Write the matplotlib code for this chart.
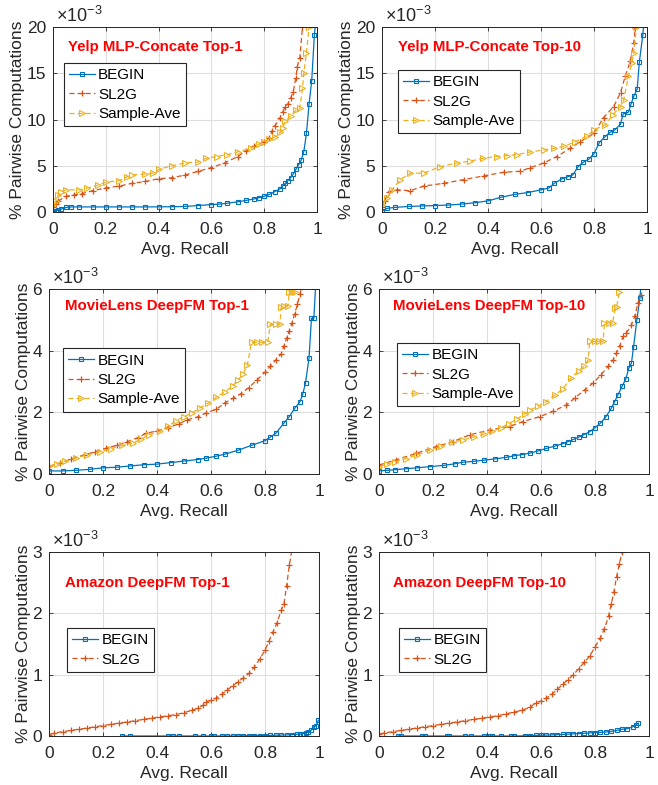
import matplotlib
matplotlib.use("Agg")
import matplotlib.pyplot as plt

plt.rcParams['font.family'] = ['Liberation Sans', 'DejaVu Sans']
plt.rcParams['mathtext.fontset'] = 'custom'
plt.rcParams['mathtext.rm'] = 'Liberation Sans'

# ---------------- data (y in units of 1e-3 %) ----------------
# Panel 1: Yelp MLP-Concate Top-1
p1_begin_x = [0, .01, .02, .03, .05, .07, .1, .15, .2, .25, .3, .35, .4, .45, .5, .55, .6, .63, .66, .7,
              .73, .76, .78, .8, .82, .84, .86, .87, .88, .89, .9, .91, .92, .93, .94, .95, .96, .97, .98, .99, 1.0]
p1_begin_y = [.1, .15, .2, .3, .5, .55, .55, .55, .55, .55, .55, .55, .56, .57, .6, .7, .8, .85, .95, 1.1,
              1.25, 1.4, 1.55, 1.7, 1.9, 2.2, 2.5, 2.8, 3.1, 3.4, 3.7, 4.1, 4.6, 5.1, 5.6, 6.5, 8.5, 11.7, 14.2, 19.1, 22]
p1_sl2g_x = [0, .01, .02, .05, .08, .11, .15, .2, .25, .3, .35, .4, .45, .5, .55, .6, .65, .7, .73, .76,
             .8, .82, .83, .84, .86, .87, .88, .89, .9, .91, .92, .925, .935, .945, .95]
p1_sl2g_y = [.5, .9, 1.2, 1.7, 1.85, 2.0, 2.3, 2.6, 2.8, 3.1, 3.3, 3.6, 3.7, 4.0, 4.4, 4.8, 5.3, 6.0, 6.6, 7.1,
             7.6, 8.0, 8.8, 9.3, 10.2, 10.8, 11.4, 11.7, 12.3, 13.0, 14.5, 15.7, 16.7, 20.0, 21]
p1_samp_x = [0, .01, .02, .03, .05, .1, .13, .17, .2, .25, .28, .3, .35, .38, .4, .45, .5, .55, .58, .62,
             .66, .7, .75, .78, .8, .82, .84, .86, .87, .88, .9, .92, .935, .945, .95, .96, .97]
p1_samp_y = [.8, 1.2, 1.8, 2.2, 2.4, 2.4, 2.6, 2.9, 3.2, 3.4, 3.8, 4.0, 4.1, 4.2, 4.6, 5.0, 5.3, 5.4, 5.8, 6.0,
             6.2, 6.5, 6.9, 7.3, 7.6, 7.9, 8.1, 8.6, 9.1, 9.8, 10.4, 11.0, 11.2, 13.4, 15.0, 17.2, 20.0]

# Panel 2: Yelp MLP-Concate Top-10
p2_begin_x = [0, .02, .05, .1, .15, .2, .25, .3, .35, .4, .45, .5, .55, .6, .63, .65, .68, .7, .72, .74,
              .76, .78, .8, .82, .84, .86, .88, .9, .91, .93, .94, .95, .963, .971, .984, .99]
p2_begin_y = [.1, .4, .5, .6, .65, .7, .75, .85, 1.0, 1.2, 1.6, 1.9, 2.1, 2.4, 2.6, 3.1, 3.6, 3.8, 4.0, 4.9,
              5.4, 5.7, 6.3, 7.5, 8.1, 8.6, 8.9, 9.5, 10.6, 10.8, 11.7, 12.5, 13.3, 16.2, 19.1, 21]
p2_sl2g_x = [0, .01, .025, .057, .107, .157, .233, .308, .384, .459, .522, .56, .61, .66, .711, .748,
             .8, .836, .874, .9, .918, .937, .95, .956]
p2_sl2g_y = [.5, 1.2, 2.2, 2.4, 2.3, 2.8, 3.1, 3.5, 3.9, 4.3, 4.4, 4.8, 5.3, 6.0, 6.9, 7.6,
             8.5, 10.2, 11.4, 12.9, 14.7, 16.3, 18.3, 19.9]
p2_samp_x = [0, .02, .038, .069, .107, .157, .22, .283, .333, .38, .434, .47, .51, .56, .61, .65, .686, .73,
             .774, .8, .843, .87, .9, .912, .93, .943, .95, .96]
p2_samp_y = [.8, 1.5, 2.4, 3.5, 4.2, 4.2, 4.9, 5.3, 5.5, 5.8, 6.0, 6.1, 6.2, 6.5, 6.7, 6.9, 7.1, 7.6,
             8.2, 8.9, 9.4, 10.5, 11.4, 12.1, 14.7, 16.1, 17.2, 20.0]

# Panel 3: MovieLens DeepFM Top-1
p3_begin_x = [0, .05, .1, .15, .2, .25, .3, .35, .4, .45, .5, .55, .58, .62, .65, .7, .75, .8, .82, .84,
              .87, .89, .91, .93, .94, .95, .963, .972, .981, .99]
p3_begin_y = [.1, .1, .12, .15, .2, .22, .26, .3, .32, .37, .42, .47, .51, .58, .64, .77, .93, 1.08, 1.2, 1.32,
              1.65, 1.86, 2.13, 2.35, 2.6, 2.95, 3.76, 5.05, 5.05, 6.5]
p3_sl2g_x = [0, .04, .08, .13, .17, .21, .25, .29, .33, .36, .4, .44, .48, .51, .55, .58, .62, .65, .68, .71,
             .74, .77, .8, .82, .84, .86, .87, .88, .89, .9, .91, .92, .93, .94]
p3_sl2g_y = [.25, .35, .48, .62, .72, .83, .93, 1.05, 1.18, 1.32, 1.4, 1.5, 1.62, 1.75, 1.85, 1.97, 2.1, 2.3, 2.45, 2.6,
             2.8, 3.05, 3.3, 3.5, 3.7, 3.9, 4.15, 4.4, 4.65, 4.9, 5.2, 5.5, 5.85, 6.2]
p3_samp_x = [0, .03, .06, .1, .14, .19, .23, .27, .31, .34, .37, .41, .44, .47, .5, .53, .56, .59, .62, .65,
             .68, .7, .72, .735, .75, .77, .79, .81, .82, .84, .855, .86, .87, .885, .89, .9, .91, .92]
p3_samp_y = [.25, .33, .42, .52, .62, .72, .82, .93, 1.0, 1.12, 1.27, 1.38, 1.55, 1.72, 1.86, 1.98, 2.15, 2.3, 2.5, 2.65,
             2.85, 3.05, 3.25, 3.55, 4.27, 4.27, 4.27, 4.27, 4.85, 4.85, 4.85, 5.4, 5.45, 5.45, 5.9, 5.9, 5.9, 6.3]

# Panel 4: MovieLens DeepFM Top-10
p4_begin_x = [0, .03, .06, .1, .14, .19, .24, .28, .31, .35, .39, .43, .47, .5, .53, .56, .59, .62, .65, .68,
              .7, .72, .74, .76, .78, .8, .82, .84, .86, .873, .885, .9, .914, .925, .935, .943, .955, .966, .975]
p4_begin_y = [.1, .12, .14, .17, .2, .24, .28, .33, .38, .41, .45, .49, .54, .59, .63, .68, .75, .83, .9, .98,
              1.05, 1.12, 1.2, 1.28, 1.37, 1.5, 1.65, 1.85, 2.13, 2.35, 2.57, 2.84, 3.08, 3.43, 3.6, 4.13, 5.0, 5.7, 6.5]
p4_sl2g_x = [0, .064, .138, .212, .274, .336, .41, .484, .533, .595, .644, .694, .725, .762, .793, .823,
             .848, .867, .879, .891, .904, .916, .935, .947, .959, .972]
p4_sl2g_y = [.29, .46, .67, .89, 1.05, 1.27, 1.43, 1.54, 1.7, 1.86, 2.03, 2.24, 2.46, 2.73, 2.95, 3.22,
             3.49, 3.7, 3.92, 4.14, 4.46, 4.57, 4.84, 5.11, 5.55, 5.82]
p4_samp_x = [0, .03, .06, .1, .14, .19, .23, .27, .31, .35, .39, .42, .45, .48, .51, .54, .56, .59, .62, .65,
             .68, .71, .74, .76, .775, .78, .8, .815, .83, .835, .85, .865, .875, .88, .89, .9]
p4_samp_y = [.24, .32, .4, .5, .62, .78, .9, 1.03, 1.1, 1.2, 1.3, 1.38, 1.5, 1.63, 1.78, 1.95, 2.08, 2.2, 2.35, 2.55,
             2.75, 3.1, 3.35, 3.5, 3.7, 4.3, 4.3, 4.3, 4.3, 4.9, 4.9, 4.9, 5.38, 5.4, 5.9, 6.3]

# Panel 5: Amazon DeepFM Top-1
p5_begin_x = [.27, .3, .44, .46, .48, .54, .57, .6, .61, .64, .66, .68, .7, .72, .74, .76, .78, .8, .82, .84,
              .86, .88, .9, .92, .93, .94, .95, .96, .97, .98, .99, .998]
p5_begin_y = [0, 0, 0, 0, 0, 0, 0, 0, 0, 0, 0, 0, .002, .003, .004, .005, .006, .008, .01, .012,
              .015, .018, .022, .027, .03, .04, .05, .065, .09, .15, .17, .26]
p5_sl2g_x = [0, .02, .05, .08, .11, .14, .17, .2, .23, .26, .29, .32, .35, .38, .41, .44, .47, .5, .53, .55,
             .57, .58, .6, .62, .64, .66, .68, .7, .72, .74, .76, .78, .8, .815, .83, .845, .86, .87, .88, .89, .9]
p5_sl2g_y = [.02, .05, .07, .09, .11, .13, .15, .17, .19, .21, .23, .25, .27, .29, .31, .33, .35, .38, .42, .45,
             .5, .56, .58, .62, .68, .75, .82, .88, .95, 1.02, 1.12, 1.25, 1.4, 1.55, 1.7, 1.85, 2.05, 2.15, 2.45, 2.78, 3.05]

# Panel 6: Amazon DeepFM Top-10
p6_begin_x = [.07, .08, .16, .17, .25, .26, .32, .34, .39, .41, .42, .45, .49, .5, .54, .56, .58, .6, .62, .64,
              .66, .68, .7, .72, .74, .76, .78, .8, .82, .84, .86, .88, .9, .92, .94, .95, .96]
p6_begin_y = [0, 0, 0, 0, 0, 0, 0, 0, 0, 0, 0, 0, 0, 0, .003, .006, .01, .012, .015, .018,
              .022, .026, .03, .035, .04, .045, .05, .055, .06, .065, .075, .09, .11, .12, .15, .18, .21]
p6_sl2g_x = [0, .02, .05, .08, .11, .14, .17, .2, .23, .26, .29, .32, .35, .38, .41, .44, .47, .5, .53, .56,
             .58, .6, .62, .64, .66, .68, .7, .72, .74, .76, .78, .8, .82, .835, .85, .86, .87, .88, .89, .9]
p6_sl2g_y = [.03, .05, .07, .09, .11, .13, .15, .17, .19, .21, .23, .25, .27, .29, .31, .33, .36, .39, .42, .47,
             .54, .57, .62, .68, .76, .84, .92, 1.0, 1.1, 1.2, 1.3, 1.45, 1.6, 1.75, 1.95, 2.15, 2.35, 2.6, 2.8, 3.0]

titles = ["Yelp MLP-Concate Top-1", "Yelp MLP-Concate Top-10",
          "MovieLens DeepFM Top-1", "MovieLens DeepFM Top-10",
          "Amazon DeepFM Top-1", "Amazon DeepFM Top-10"]
series_names = ["BEGIN", "SL2G", "Sample-Ave"]
x_ticks = [0, 0.2, 0.4, 0.6, 0.8, 1]
x_tick_labels = ["0", "0.2", "0.4", "0.6", "0.8", "1"]
y_ticks = [[0, 5, 10, 15, 20], [0, 5, 10, 15, 20], [0, 2, 4, 6], [0, 2, 4, 6], [0, 1, 2, 3], [0, 1, 2, 3]]

panels = [
    [(p1_begin_x, p1_begin_y), (p1_sl2g_x, p1_sl2g_y), (p1_samp_x, p1_samp_y)],
    [(p2_begin_x, p2_begin_y), (p2_sl2g_x, p2_sl2g_y), (p2_samp_x, p2_samp_y)],
    [(p3_begin_x, p3_begin_y), (p3_sl2g_x, p3_sl2g_y), (p3_samp_x, p3_samp_y)],
    [(p4_begin_x, p4_begin_y), (p4_sl2g_x, p4_sl2g_y), (p4_samp_x, p4_samp_y)],
    [(p5_begin_x, p5_begin_y), (p5_sl2g_x, p5_sl2g_y)],
    [(p6_begin_x, p6_begin_y), (p6_sl2g_x, p6_sl2g_y)],
]

# ---------------- layout / style ----------------
W, H = 658, 785
# (left, right, top, bottom) in pixels
boxes = [(53, 317, 27, 212), (382, 647, 27, 212),
         (49, 319, 289, 474), (379, 649, 289, 474),
         (49, 319, 552, 736), (379, 649, 552, 736)]
title_pos = [(0.055, 0.89), (0.06, 0.89), (0.06, 0.91), (0.052, 0.91), (0.06, 0.83), (0.052, 0.83)]
legend_pos = [(0.04, 0.805), (0.06, 0.768), (0.052, 0.68), (0.067, 0.708), (0.067, 0.587), (0.074, 0.587)]

colors = ['#0072BD', '#D95319', '#EDB120']
styles = [dict(ls='-', marker='s', ms=3.2, mfc='none', mew=0.8, lw=0.9),
          dict(ls=(0, (4, 2.5)), marker='+', ms=4.5, mew=0.9, lw=0.9),
          dict(ls=(0, (4, 2.5)), marker='>', ms=4.5, mfc='none', mew=0.8, lw=0.9)]
dark = '#262626'

fig = plt.figure(figsize=(W / 100, H / 100), dpi=100)
for i, (box, data) in enumerate(zip(boxes, panels)):
    l, r, t, b = box
    ax = fig.add_axes([l / W, 1 - b / H, (r - l) / W, (b - t) / H])
    for j, (xs, ys) in enumerate(data):
        ax.plot(xs, ys, color=colors[j], label=series_names[j], **styles[j])
    ymax = y_ticks[i][-1]
    ax.set_xlim(0, 1)
    ax.set_ylim(0, ymax)
    ax.set_xticks(x_ticks)
    ax.set_xticklabels(x_tick_labels)
    ax.set_yticks(y_ticks[i])
    ax.set_yticklabels([str(v) for v in y_ticks[i]])
    ax.grid(True, color='#dedede', lw=0.8)
    ax.set_axisbelow(True)
    ax.tick_params(direction='in', length=3, width=0.6, top=True, right=True,
                   labelsize=12.5, colors=dark)
    ax.tick_params(axis='x', pad=7)
    ax.tick_params(axis='y', pad=5)
    for s in ax.spines.values():
        s.set_color(dark)
        s.set_linewidth(0.7)
    ax.set_xlabel("Avg. Recall", fontsize=12.5, color=dark, labelpad=4)
    ax.set_ylabel("% Pairwise Computations", fontsize=12.5, color=dark, labelpad=1)
    ax.text(0.012, 1.005, r'$\mathregular{\times10^{-3}}$', transform=ax.transAxes,
            fontsize=13, color=dark, va='bottom', ha='left')
    tx, ty = title_pos[i]
    ax.text(tx, ty, titles[i], transform=ax.transAxes, color='#ff0000',
            fontweight='bold', fontsize=10.8, va='center', ha='left')
    leg = ax.legend(loc='upper left', bbox_to_anchor=legend_pos[i], fontsize=11,
                    frameon=True, fancybox=False, handlelength=1.7, handletextpad=0.2,
                    borderpad=0.35, labelspacing=0.35, borderaxespad=0, numpoints=1)
    leg.get_frame().set_edgecolor(dark)
    leg.get_frame().set_linewidth(0.8)
    leg.get_frame().set_alpha(1)

fig.savefig("out.png", dpi=100)
